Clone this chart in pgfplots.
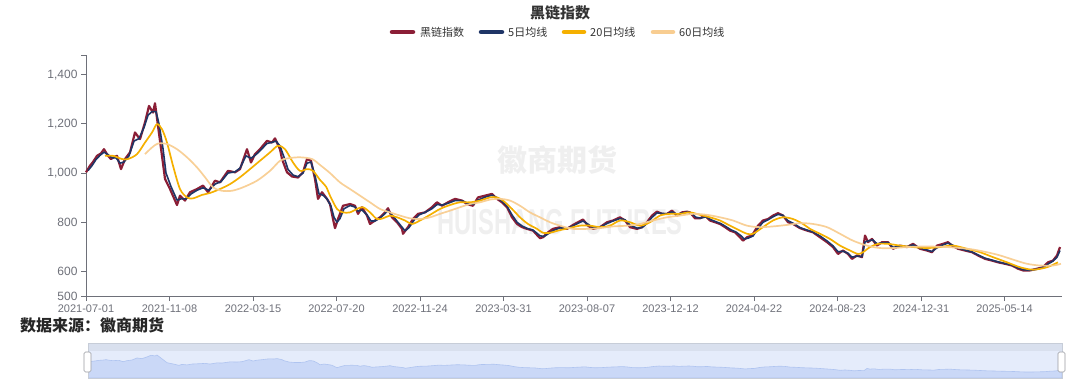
\documentclass[border=0pt]{standalone}
\usepackage{pgfplots}
\pgfplotsset{compat=1.18}
\usepackage{pgfplotstable}
\usepackage{fontspec}
\setmainfont{Liberation Sans}
\newfontfamily\cjk{Noto Sans CJK SC}
\definecolor{rawc}{HTML}{8B1E36}
\definecolor{ma5c}{HTML}{1F3566}
\definecolor{ma20c}{HTML}{F5B000}
\definecolor{ma60c}{HTML}{F8CD91}
\definecolor{axc}{HTML}{6E7079}
\definecolor{txc}{HTML}{333333}
\definecolor{slband}{HTML}{D9E0EE}
\definecolor{slbg}{HTML}{E5ECFB}
\definecolor{slfill}{HTML}{CAD8F7}
\definecolor{slline}{HTML}{AFC4F0}
\definecolor{wm}{HTML}{EFEFEF}

\pgfplotstableread{
x y
0 1003
4 1030
7 1045
11 1070
15 1080
18 1097
22 1070
25 1057
28 1065
31 1070
35 1016
39 1057
44 1084
49 1165
54 1138
59 1206
63 1273
67 1246
69 1284
72 1192
76 1070
79 976
84 935
91 870
94 908
99 888
104 922
111 935
117 949
122 922
129 969
134 962
142 1009
149 1003
154 1016
161 1097
165 1043
169 1077
174 1097
181 1131
186 1124
189 1141
194 1097
196 1057
201 1003
206 986
212 982
217 1003
221 1057
225 1050
229 976
232 895
236 922
241 895
244 874
247 813
249 776
252 813
257 867
264 874
269 867
272 834
276 861
281 827
284 793
289 807
294 820
299 840
302 857
306 820
311 800
316 773
317 753
322 780
327 813
332 834
339 840
346 861
351 881
356 867
362 881
369 895
376 888
381 874
387 867
392 901
399 908
406 915
411 895
416 881
421 861
426 820
431 793
436 780
441 773
447 766
454 735
457 739
462 759
467 773
474 780
479 773
481 773
487 789
492 800
497 811
502 786
507 773
514 780
521 800
527 807
534 820
539 807
544 780
551 773
556 780
561 800
566 827
571 843
576 834
581 834
586 847
591 827
596 840
601 843
604 840
609 816
614 816
619 827
624 807
629 800
634 793
639 780
644 766
649 759
654 739
657 725
661 739
666 746
672 786
677 807
682 813
687 827
692 837
697 827
702 800
707 793
714 776
721 766
727 759
734 739
741 719
747 699
752 671
757 685
762 671
766 651
771 665
776 658
779 746
782 719
786 732
791 705
796 719
802 719
807 692
814 705
821 699
827 712
834 692
841 685
846 678
851 705
857 712
862 719
866 705
872 692
879 685
886 678
892 665
899 651
906 644
912 637
919 631
926 624
932 611
937 604
944 604
951 611
957 617
962 637
967 644
971 665
974 699
}\rawdata

\pgfplotstableread{
x y
2 1010
6 1030
10 1055
14 1072
18 1085
22 1075
26 1062
30 1062
34 1040
38 1045
43 1070
48 1130
53 1140
58 1185
62 1235
66 1250
70 1250
73 1200
77 1100
80 1000
85 945
91 890
95 895
100 895
105 915
111 930
117 940
123 930
129 955
135 965
142 1000
149 1005
154 1020
160 1070
165 1060
170 1075
175 1095
181 1120
186 1125
190 1130
194 1110
198 1065
202 1015
207 992
212 985
217 1000
221 1040
225 1045
229 990
233 915
237 910
241 895
245 865
248 820
251 800
254 815
258 855
264 868
269 862
272 845
276 850
281 830
285 805
289 805
294 817
299 835
302 848
306 830
311 805
316 780
319 765
323 778
328 808
333 830
339 840
346 855
351 872
356 870
362 877
369 888
376 888
381 878
387 872
392 890
399 902
406 910
411 900
416 885
421 865
426 830
431 800
436 785
441 775
447 768
454 745
458 742
463 755
468 768
474 777
481 775
487 785
492 796
497 805
502 792
507 778
514 779
521 795
527 805
534 815
539 810
544 788
551 776
556 778
561 795
566 820
571 838
576 836
581 834
586 842
591 832
596 837
601 841
605 838
610 820
615 817
620 822
625 810
630 802
635 794
640 782
645 769
650 760
655 745
658 732
662 735
667 744
672 775
677 800
682 810
687 822
692 832
697 828
702 806
708 794
714 778
721 768
727 760
734 744
741 724
747 704
752 680
757 682
762 674
766 658
771 662
776 660
779 720
783 725
787 728
791 712
796 716
802 717
807 698
814 702
821 700
827 708
834 695
841 687
846 681
851 696
857 708
862 715
866 708
872 695
879 687
886 679
892 667
899 654
906 646
912 639
919 632
926 626
932 614
937 607
944 605
951 609
957 616
962 630
967 642
971 658
974 685
}\mafive

\pgfplotstableread{
x y
19 1070
27 1070
36 1057
42 1057
51 1077
59 1124
66 1165
71 1199
76 1178
81 1124
87 1030
94 935
101 901
107 897
116 911
124 919
134 935
144 955
154 983
164 1016
174 1050
184 1084
192 1111
199 1097
207 1043
214 1009
221 1016
227 1009
234 972
240 945
244 908
251 854
257 840
264 840
271 854
277 861
284 840
291 813
297 816
304 827
311 820
319 807
326 793
334 807
344 830
354 854
364 870
374 881
384 881
394 888
404 901
411 901
417 888
426 854
434 820
442 793
451 773
457 757
464 757
472 766
482 775
494 786
504 786
514 780
524 786
534 807
544 800
554 786
564 800
574 827
584 834
594 834
604 840
614 830
624 820
634 807
644 786
654 766
661 753
667 753
677 780
687 807
697 820
707 813
717 793
724 773
734 753
744 732
754 705
764 685
772 671
777 678
784 699
792 712
802 712
814 705
827 699
841 695
854 699
867 705
881 692
894 678
907 658
921 637
934 617
947 607
961 617
972 637
}\matwenty

\pgfplotstableread{
x y
59 1077
66 1104
72 1120
81 1118
91 1097
101 1064
111 1023
119 983
127 942
136 928
146 928
157 942
171 969
184 1009
194 1050
202 1060
214 1064
226 1057
234 1033
244 1000
254 962
264 935
274 908
284 881
294 854
304 840
314 827
324 816
334 813
344 820
354 834
364 847
374 861
384 874
394 881
404 892
414 895
424 888
434 867
444 840
454 820
464 800
474 786
487 773
501 773
514 776
527 783
541 786
554 793
567 807
581 820
594 827
607 834
621 830
634 820
647 807
661 786
674 780
687 783
701 789
714 796
727 793
741 780
754 753
767 725
781 705
794 695
807 695
821 699
834 701
847 701
861 699
874 695
887 689
901 678
914 665
927 648
941 631
954 624
967 624
975 631
}\masixty

\begin{document}
\begin{tikzpicture}[x=1pt,y=1pt]
\useasboundingbox (0,0) rectangle (1080,384);
% watermarks
\node[text=wm,font=\cjk\bfseries\fontsize{30}{32}\selectfont] at (557,224) {徽商期货};
\node[text=wm,font=\bfseries\fontsize{36}{38}\selectfont] at (560,162) {\scalebox{0.66}[1]{HUISHANG FUTURES}};
% title
\node[text=txc,font=\cjk\bfseries\fontsize{15}{17}\selectfont] at (560,371) {黑链指数};
% legend
\begin{scope}[line width=4.5pt,line cap=round]
\draw[rawc] (392,352) -- (413,352);
\draw[ma5c] (481,352) -- (502,352);
\draw[ma20c] (564,352) -- (584,352);
\draw[ma60c] (653,352) -- (673,352);
\end{scope}
\begin{scope}[font=\cjk\fontsize{11}{13}\selectfont,text=txc]
\node[anchor=west,inner sep=0pt] at (420,352) {黑链指数};
\node[anchor=west,inner sep=0pt] at (508,352) {5日均线};
\node[anchor=west,inner sep=0pt] at (590,352) {20日均线};
\node[anchor=west,inner sep=0pt] at (679,352) {60日均线};
\end{scope}
% source
\node[anchor=west,inner sep=0pt,text=black!85,font=\cjk\bfseries\fontsize{16}{18}\selectfont] at (20,59) {数据来源：徽商期货};
% main axis
\begin{axis}[
  at={(86pt,88pt)}, anchor=south west,
  scale only axis, width=976pt, height=241pt,
  xmin=0, xmax=976, ymin=500, ymax=1480,
  axis lines*=left,
  axis line style={axc,line width=0.8pt},
  every tick/.style={axc,line width=0.8pt},
  tick align=outside, major tick length=5pt,
  xtick={0,83.5,167,250.5,334,417.5,501,584.5,668,751.5,835,918.5},
  xticklabels={2021-07-01,2021-11-08,2022-03-15,2022-07-20,2022-11-24,2023-03-31,2023-08-07,2023-12-12,2024-04-22,2024-08-23,2024-12-31,2025-05-14},
  ytick={500,600,800,1000,1200,1400,1480},
  yticklabels={500,600,800,{1,000},{1,200},{1,400},{}},
  xticklabel style={text=axc,font=\fontsize{11}{13}\selectfont},
  yticklabel style={text=axc,font=\fontsize{12}{14}\selectfont},
  clip=false,
]
\addplot[rawc,line width=2.2pt,line join=round] table {\rawdata};
\addplot[ma5c,line width=1.6pt,line join=round] table {\mafive};
\addplot[ma20c,line width=1.7pt,line join=round,smooth] table {\matwenty};
\addplot[ma60c,line width=1.7pt,line join=round,smooth,opacity=0.95] table {\masixty};
\end{axis}
% slider background
\fill[slband] (88,33) rectangle (1062,41);
\fill[slbg] (88,6) rectangle (1062,33);
\begin{axis}[
  at={(88pt,6pt)}, anchor=south west,
  scale only axis, width=974pt, height=27pt,
  xmin=0, xmax=974, ymin=364, ymax=1444,
  hide axis,
]
\addplot[draw=slline,fill=slfill,line width=0.6pt] table {\rawdata} \closedcycle;
\end{axis}
\draw[slband!80!gray,line width=0.5pt] (88,6) rectangle (1062,41);
\draw[fill=white,draw=axc!70,line width=0.6pt,rounded corners=1.5pt] (84,12) rectangle (91,32);
\draw[fill=white,draw=axc!70,line width=0.6pt,rounded corners=1.5pt] (1058,12) rectangle (1065,32);
\end{tikzpicture}
\end{document}
